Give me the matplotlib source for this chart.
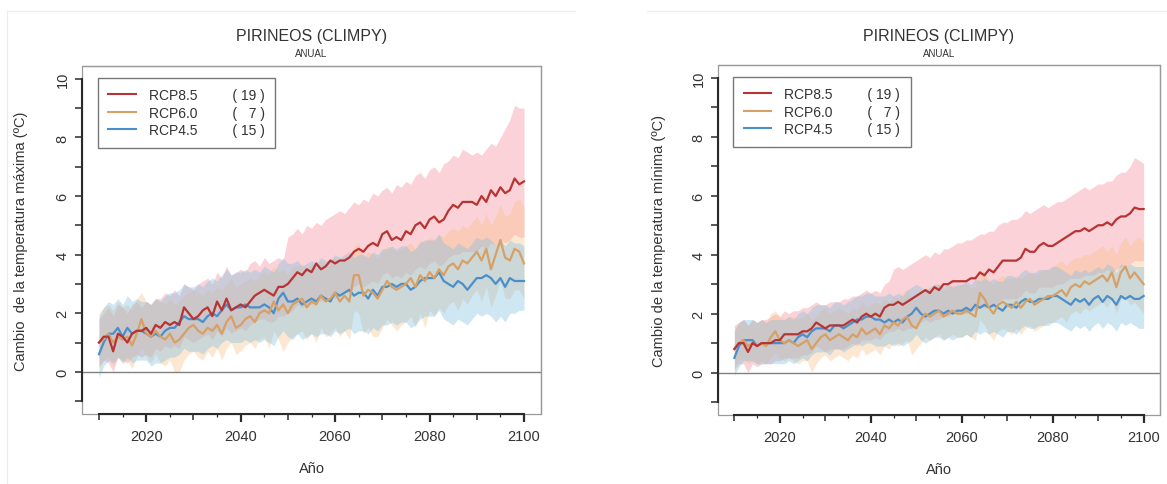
import numpy as np
import matplotlib
matplotlib.use("Agg")
import matplotlib.pyplot as plt
from matplotlib.lines import Line2D
from matplotlib.patches import Rectangle
from matplotlib.ticker import MultipleLocator, FixedLocator

plt.rcParams["font.family"] = ["Liberation Sans", "DejaVu Sans"]

years = np.arange(2010, 2101)
scenarios = ["RCP8.5", "RCP6.0", "RCP4.5"]
n_models = [19, 7, 15]

# --- temperatura máxima (left panel) ---
tx_85 = [1.0, 1.2, 1.2, 0.7, 1.3, 1.2, 1.0, 1.3, 1.4, 1.4,
         1.5, 1.3, 1.6, 1.5, 1.7, 1.6, 1.7, 1.6, 2.2, 2.0,
         1.8, 1.9, 2.1, 2.2, 1.9, 2.4, 2.1, 2.5, 2.1, 2.2,
         2.3, 2.2, 2.4, 2.6, 2.7, 2.8, 2.7, 2.6, 2.9, 2.9,
         3.0, 3.2, 3.4, 3.3, 3.5, 3.4, 3.7, 3.5, 3.6, 3.8,
         3.7, 3.8, 3.8, 3.9, 4.1, 4.2, 4.1, 4.3, 4.4, 4.3,
         4.7, 4.8, 4.5, 4.6, 4.5, 4.8, 4.7, 5.0, 5.1, 4.9,
         5.2, 5.3, 5.1, 5.2, 5.5, 5.7, 5.6, 5.8, 5.8, 5.8,
         5.7, 6.0, 5.8, 6.2, 6.0, 6.3, 6.1, 6.2, 6.6, 6.4,
         6.5]
tx_85_hi = [1.8, 2.0, 2.2, 1.9, 2.3, 2.2, 2.0, 2.3, 2.4, 2.2,
            2.4, 2.3, 2.5, 2.5, 2.7, 2.6, 2.8, 2.6, 3.0, 2.9,
            2.8, 3.0, 3.1, 3.2, 3.0, 3.4, 3.2, 3.6, 3.3, 3.4,
            3.5, 3.4, 3.7, 3.8, 3.6, 3.9, 3.7, 3.8, 3.9, 3.8,
            4.6, 4.7, 4.9, 4.7, 5.0, 4.9, 5.1, 5.0, 5.2, 5.3,
            5.4, 5.5, 5.4, 5.6, 5.8, 5.7, 5.9, 5.8, 6.1, 6.0,
            6.2, 6.3, 6.1, 6.4, 6.3, 6.5, 6.4, 6.7, 6.8, 6.6,
            6.9, 7.0, 6.8, 7.1, 7.2, 7.4, 7.3, 7.6, 7.5, 7.4,
            7.5, 7.4, 7.6, 7.8, 7.7, 8.0, 8.3, 8.6, 9.1, 9.0,
            9.0]
tx_85_lo = [0.2, 0.4, 0.3, 0.0, 0.5, 0.4, 0.3, 0.5, 0.6, 0.5,
            0.6, 0.5, 0.8, 0.7, 0.9, 0.8, 0.9, 0.8, 1.2, 1.1,
            1.0, 1.1, 1.2, 1.3, 1.1, 1.4, 1.2, 1.5, 1.3, 1.4,
            1.5, 1.4, 1.6, 1.7, 1.8, 1.8, 1.7, 1.7, 1.9, 1.9,
            2.0, 2.1, 2.3, 2.2, 2.3, 2.3, 2.5, 2.4, 2.5, 2.6,
            2.5, 2.6, 2.7, 2.7, 2.9, 3.0, 2.9, 3.0, 3.1, 3.0,
            3.3, 3.4, 3.2, 3.3, 3.2, 3.4, 3.3, 3.5, 3.6, 3.5,
            3.7, 3.8, 3.6, 3.7, 3.9, 4.0, 4.0, 4.1, 4.1, 4.1,
            4.1, 4.3, 4.2, 4.4, 4.3, 4.5, 4.4, 4.5, 4.7, 4.6,
            4.6]
tx_60 = [1.0, 1.1, 1.3, 1.0, 1.2, 1.1, 1.2, 0.9, 1.3, 1.8,
         1.3, 1.2, 1.4, 1.2, 1.1, 1.3, 1.0, 1.1, 1.3, 1.5,
         1.6, 1.4, 1.3, 1.5, 1.4, 1.6, 1.3, 1.7, 1.9, 1.5,
         1.6, 1.8, 1.9, 1.7, 2.0, 2.1, 2.0, 2.4, 2.1, 2.3,
         2.0, 2.3, 2.4, 2.5, 2.2, 2.4, 2.3, 2.6, 2.4, 2.5,
         2.7, 2.4, 2.6, 2.4, 3.3, 3.3, 2.6, 2.8, 2.7, 2.5,
         2.8, 3.1, 2.9, 2.8, 2.9, 3.0, 3.2, 2.9, 3.3, 3.1,
         3.4, 3.2, 3.5, 3.3, 3.6, 3.7, 3.5, 3.8, 3.7, 3.9,
         4.1, 3.8, 4.2, 3.5, 4.0, 4.5, 3.9, 3.8, 4.2, 4.1,
         3.7]
tx_60_hi = [2.0, 2.2, 2.3, 2.1, 2.4, 2.2, 2.3, 2.1, 2.5, 2.7,
            2.4, 2.3, 2.5, 2.4, 2.3, 2.5, 2.3, 2.4, 2.6, 2.7,
            2.8, 2.7, 2.6, 2.8, 2.7, 2.9, 2.8, 3.0, 3.2, 2.9,
            3.0, 3.1, 3.2, 3.1, 3.3, 3.4, 3.3, 3.6, 3.4, 3.5,
            3.3, 3.6, 3.6, 3.7, 3.5, 3.7, 3.6, 3.8, 3.7, 3.8,
            3.9, 3.7, 3.9, 3.8, 4.3, 4.4, 3.9, 4.1, 4.0, 3.9,
            4.1, 4.3, 4.2, 4.1, 4.2, 4.3, 4.4, 4.2, 4.5, 4.4,
            4.6, 4.5, 4.7, 4.6, 4.8, 4.9, 4.8, 5.0, 4.9, 5.1,
            5.3, 5.0, 5.4, 5.0, 5.3, 5.7, 5.3, 5.4, 5.8, 5.9,
            5.6]
tx_60_lo = [0.1, 0.4, 0.5, 0.2, 0.5, 0.3, 0.4, 0.1, 0.5, 0.8,
            0.5, 0.3, 0.6, 0.3, 0.2, 0.4, 0.0, 0.0, 0.4, 0.6,
            0.7, 0.5, 0.4, 0.7, 0.5, 0.8, 0.4, 0.8, 1.0, 0.6,
            0.7, 0.9, 1.0, 0.8, 1.1, 1.2, 0.8, 1.4, 1.1, 0.7,
            1.0, 1.2, 1.3, 1.4, 1.1, 1.3, 1.0, 1.5, 1.2, 1.3,
            1.5, 1.2, 1.4, 1.1, 2.1, 2.0, 1.3, 1.5, 1.2, 1.2,
            1.5, 1.8, 1.6, 1.4, 1.6, 1.7, 1.9, 1.5, 2.0, 1.5,
            2.1, 1.9, 2.2, 2.0, 2.3, 2.4, 2.1, 2.5, 2.3, 2.6,
            2.8, 2.4, 2.9, 2.2, 2.6, 3.1, 2.5, 2.5, 2.8, 2.8,
            2.5]
tx_45 = [0.6, 1.0, 1.3, 1.3, 1.5, 1.2, 1.5, 1.3, 1.4, 1.4,
         1.3, 1.2, 1.3, 1.2, 1.4, 1.5, 1.5, 1.7, 1.9, 1.8,
         1.8, 1.8, 1.7, 1.9, 2.0, 1.9, 2.1, 2.3, 2.1, 2.2,
         2.2, 2.3, 2.2, 2.2, 2.2, 2.3, 2.2, 2.0, 2.5, 2.7,
         2.4, 2.4, 2.5, 2.3, 2.4, 2.5, 2.4, 2.6, 2.5, 2.4,
         2.7, 2.6, 2.7, 2.8, 2.6, 2.7, 2.7, 2.5, 2.8, 2.6,
         2.9, 2.9, 3.0, 2.9, 3.0, 3.0, 2.8, 2.9, 3.1, 3.2,
         3.2, 3.2, 3.4, 3.1, 3.0, 2.9, 3.1, 3.0, 2.8, 3.0,
         3.2, 3.2, 3.3, 3.2, 3.0, 3.2, 2.9, 3.2, 3.1, 3.1,
         3.1]
tx_45_hi = [1.9, 2.2, 2.4, 2.3, 2.5, 2.3, 2.6, 2.4, 2.5, 2.4,
            2.4, 2.3, 2.5, 2.4, 2.6, 2.7, 2.7, 2.8, 3.0, 2.9,
            2.9, 3.0, 2.9, 3.1, 3.2, 3.1, 3.3, 3.5, 3.3, 3.4,
            3.4, 3.5, 3.4, 3.5, 3.4, 3.6, 3.5, 3.4, 3.7, 3.9,
            3.7, 3.7, 3.8, 3.6, 3.7, 3.8, 3.7, 3.9, 3.8, 3.8,
            4.0, 3.9, 4.0, 4.1, 3.9, 4.0, 4.0, 3.9, 4.1, 4.0,
            4.2, 4.2, 4.3, 4.2, 4.3, 4.3, 4.1, 4.2, 4.4, 4.5,
            4.5, 4.5, 4.7, 4.4, 4.3, 4.2, 4.4, 4.3, 4.2, 4.4,
            4.6, 4.5, 4.6, 4.5, 4.3, 4.5, 4.3, 4.5, 4.4, 4.4,
            4.3]
tx_45_lo = [-0.2, 0.2, 0.4, 0.3, 0.5, 0.3, 0.5, 0.3, 0.4, 0.4,
            0.4, 0.2, 0.3, 0.3, 0.4, 0.5, 0.5, 0.6, 0.8, 0.7,
            0.7, 0.7, 0.6, 0.8, 0.9, 0.8, 1.0, 1.1, 1.0, 1.0,
            1.0, 1.1, 1.0, 1.1, 1.0, 1.1, 1.0, 0.9, 1.2, 1.4,
            1.2, 1.1, 1.3, 1.1, 1.2, 1.3, 1.2, 1.3, 1.3, 1.2,
            1.4, 1.3, 1.4, 1.5, 1.3, 1.4, 1.4, 1.3, 1.5, 1.4,
            1.6, 1.6, 1.7, 1.6, 1.7, 1.7, 1.5, 1.6, 1.8, 1.9,
            1.9, 1.9, 2.1, 1.8, 1.7, 1.6, 1.8, 1.7, 1.6, 1.8,
            2.0, 1.9, 2.0, 1.9, 1.7, 1.9, 1.7, 2.0, 2.0, 2.1,
            2.1]

# --- temperatura mínima (right panel) ---
tn_85 = [0.8, 1.0, 1.0, 0.7, 1.0, 0.9, 1.0, 1.0, 1.0, 1.1,
         1.1, 1.3, 1.3, 1.3, 1.3, 1.4, 1.4, 1.5, 1.7, 1.6,
         1.5, 1.6, 1.6, 1.6, 1.6, 1.7, 1.8, 1.7, 1.9, 2.0,
         1.9, 2.0, 1.9, 2.2, 2.3, 2.3, 2.4, 2.3, 2.4, 2.5,
         2.6, 2.7, 2.8, 2.7, 2.9, 2.8, 3.0, 3.0, 3.1, 3.1,
         3.1, 3.1, 3.2, 3.2, 3.4, 3.3, 3.5, 3.4, 3.6, 3.8,
         3.8, 3.8, 3.8, 3.9, 4.2, 4.1, 4.1, 4.3, 4.4, 4.3,
         4.3, 4.4, 4.5, 4.6, 4.7, 4.8, 4.8, 4.9, 4.8, 4.9,
         5.0, 5.0, 5.1, 5.0, 5.2, 5.3, 5.3, 5.4, 5.6, 5.55,
         5.55]
tn_85_hi = [1.6, 1.7, 1.8, 1.6, 1.8, 1.7, 1.8, 1.8, 1.9, 2.0,
            1.9, 2.1, 2.0, 2.1, 2.1, 2.2, 2.2, 2.3, 2.4, 2.3,
            2.3, 2.4, 2.4, 2.4, 2.5, 2.5, 2.6, 2.6, 2.7, 2.8,
            2.7, 2.8, 2.7, 3.0, 3.1, 3.5, 3.6, 3.5, 3.6, 3.7,
            3.8, 3.9, 4.0, 3.9, 4.1, 4.0, 4.2, 4.2, 4.3, 4.4,
            4.4, 4.5, 4.5, 4.6, 4.7, 4.7, 4.8, 4.8, 5.0, 5.1,
            5.1, 5.2, 5.2, 5.3, 5.5, 5.4, 5.5, 5.6, 5.7, 5.6,
            5.7, 5.8, 5.8, 5.9, 6.0, 6.1, 6.2, 6.3, 6.2, 6.3,
            6.4, 6.4, 6.5, 6.5, 6.7, 6.8, 6.8, 7.0, 7.3, 7.2,
            7.1]
tn_85_lo = [0.1, 0.3, 0.3, 0.0, 0.3, 0.2, 0.3, 0.3, 0.3, 0.4,
            0.4, 0.5, 0.5, 0.5, 0.5, 0.6, 0.6, 0.7, 0.9, 0.8,
            0.7, 0.8, 0.8, 0.8, 0.8, 0.9, 1.0, 0.9, 1.1, 1.1,
            1.1, 1.2, 1.1, 1.3, 1.4, 1.4, 1.5, 1.4, 1.5, 1.5,
            1.6, 1.7, 1.8, 1.7, 1.8, 1.8, 1.9, 1.9, 2.0, 2.0,
            2.0, 2.0, 2.1, 2.1, 2.2, 2.2, 2.3, 2.2, 2.4, 2.5,
            2.5, 2.5, 2.5, 2.6, 2.8, 2.7, 2.7, 2.9, 2.9, 2.9,
            2.9, 3.0, 3.0, 3.1, 3.2, 3.2, 3.2, 3.3, 3.3, 3.3,
            3.4, 3.4, 3.5, 3.4, 3.5, 3.6, 3.6, 3.7, 3.8, 3.8,
            3.8]
tn_60 = [0.8, 1.0, 1.1, 0.9, 1.0, 0.9, 1.0, 0.9, 1.2, 1.4,
         1.1, 1.0, 1.1, 1.0, 0.9, 1.0, 1.1, 0.8, 1.0, 1.2,
         1.3, 1.1, 1.2, 1.3, 1.2, 1.1, 1.3, 1.2, 1.5, 1.3,
         1.4, 1.5, 1.3, 1.6, 1.5, 1.7, 1.6, 1.8, 1.9, 1.6,
         1.5, 1.8, 2.0, 1.9, 2.0, 2.1, 1.9, 2.0, 2.1, 2.0,
         2.0, 2.1, 2.0, 1.9, 2.7, 2.5, 2.2, 2.0, 2.3, 2.4,
         2.3, 2.2, 2.4, 2.2, 2.4, 2.5, 2.3, 2.4, 2.5, 2.6,
         2.6, 2.7, 2.8, 2.6, 2.9, 3.0, 2.9, 3.1, 3.0, 3.1,
         3.2, 3.3, 3.1, 3.4, 2.9, 3.4, 3.6, 3.2, 3.4, 3.2,
         3.0]
tn_60_hi = [1.5, 1.7, 1.8, 1.6, 1.8, 1.7, 1.8, 1.7, 2.0, 2.1,
            1.9, 1.8, 1.9, 1.9, 1.8, 1.9, 2.0, 1.8, 1.9, 2.1,
            2.2, 2.0, 2.1, 2.2, 2.1, 2.0, 2.2, 2.1, 2.4, 2.2,
            2.3, 2.4, 2.3, 2.5, 2.4, 2.6, 2.5, 2.7, 2.8, 2.5,
            2.5, 2.7, 2.9, 2.8, 2.9, 3.0, 2.8, 2.9, 3.0, 2.9,
            3.0, 3.0, 2.9, 2.9, 3.5, 3.4, 3.1, 3.0, 3.2, 3.3,
            3.2, 3.2, 3.3, 3.2, 3.3, 3.4, 3.3, 3.4, 3.5, 3.5,
            3.6, 3.7, 3.8, 3.6, 3.8, 3.9, 3.9, 4.0, 4.0, 4.1,
            4.2, 4.3, 4.1, 4.3, 4.0, 4.4, 4.6, 4.3, 4.5, 4.6,
            4.4]
tn_60_lo = [0.2, 0.4, 0.5, 0.3, 0.4, 0.3, 0.4, 0.3, 0.5, 0.7,
            0.5, 0.4, 0.5, 0.4, 0.3, 0.4, 0.4, 0.0, 0.3, 0.5,
            0.6, 0.4, 0.5, 0.6, 0.5, 0.4, 0.6, 0.5, 0.8, 0.6,
            0.7, 0.8, 0.6, 0.9, 0.8, 1.0, 0.9, 1.0, 1.1, 0.6,
            0.8, 1.0, 1.2, 1.1, 1.2, 1.3, 1.1, 1.2, 1.3, 1.2,
            1.2, 1.3, 1.2, 1.1, 1.8, 1.6, 1.3, 1.1, 1.4, 1.5,
            1.4, 1.3, 1.5, 1.3, 1.5, 1.6, 1.4, 1.5, 1.6, 1.7,
            1.7, 1.8, 1.9, 1.7, 2.0, 2.1, 2.0, 2.2, 2.1, 2.2,
            2.3, 2.4, 2.2, 2.5, 2.0, 2.5, 2.6, 2.3, 2.4, 2.2,
            2.0]
tn_45 = [0.5, 0.9, 1.1, 1.1, 1.1, 0.9, 1.0, 1.0, 1.0, 1.0,
         1.0, 1.0, 1.1, 1.0, 1.2, 1.3, 1.2, 1.4, 1.5, 1.5,
         1.5, 1.4, 1.6, 1.6, 1.5, 1.6, 1.7, 1.8, 1.8, 1.9,
         1.9, 1.8, 1.8, 1.7, 1.8, 1.7, 1.8, 1.7, 1.9, 2.0,
         2.2, 2.0, 1.9, 2.0, 2.1, 2.1, 2.0, 2.1, 2.0, 2.1,
         2.1, 2.2, 2.1, 2.3, 2.2, 2.3, 2.2, 2.3, 2.2, 2.1,
         2.3, 2.3, 2.2, 2.4, 2.5, 2.4, 2.4, 2.5, 2.5, 2.5,
         2.6, 2.6, 2.5, 2.4, 2.3, 2.5, 2.4, 2.5, 2.3, 2.5,
         2.6, 2.4, 2.6, 2.5, 2.3, 2.6, 2.5, 2.6, 2.5, 2.5,
         2.6]
tn_45_hi = [1.4, 1.7, 1.8, 1.8, 1.8, 1.7, 1.8, 1.7, 1.8, 1.8,
            1.8, 1.8, 1.9, 1.8, 2.0, 2.1, 2.0, 2.2, 2.3, 2.3,
            2.3, 2.2, 2.4, 2.4, 2.3, 2.4, 2.5, 2.6, 2.6, 2.7,
            2.7, 2.6, 2.6, 2.6, 2.7, 2.6, 2.7, 2.6, 2.8, 2.9,
            3.0, 2.9, 2.8, 2.9, 3.0, 3.0, 2.9, 3.0, 2.9, 3.0,
            3.0, 3.1, 3.0, 3.2, 3.1, 3.2, 3.1, 3.2, 3.1, 3.1,
            3.3, 3.3, 3.2, 3.4, 3.5, 3.4, 3.4, 3.5, 3.5, 3.5,
            3.6, 3.6, 3.5, 3.4, 3.3, 3.5, 3.4, 3.5, 3.4, 3.5,
            3.6, 3.5, 3.7, 3.6, 3.4, 3.7, 3.6, 3.7, 3.6, 3.6,
            3.6]
tn_45_lo = [-0.1, 0.2, 0.4, 0.4, 0.4, 0.3, 0.3, 0.3, 0.3, 0.3,
            0.3, 0.3, 0.4, 0.3, 0.4, 0.5, 0.4, 0.6, 0.7, 0.7,
            0.7, 0.6, 0.8, 0.8, 0.7, 0.8, 0.9, 1.0, 0.9, 1.0,
            1.0, 0.9, 0.9, 0.9, 1.0, 0.9, 1.0, 0.9, 1.0, 1.1,
            1.3, 1.1, 1.0, 1.1, 1.2, 1.2, 1.1, 1.2, 1.1, 1.2,
            1.2, 1.3, 1.2, 1.4, 1.3, 1.4, 1.3, 1.4, 1.3, 1.2,
            1.4, 1.4, 1.3, 1.5, 1.6, 1.5, 1.5, 1.6, 1.6, 1.6,
            1.7, 1.7, 1.6, 1.5, 1.4, 1.6, 1.5, 1.6, 1.4, 1.6,
            1.7, 1.5, 1.7, 1.6, 1.4, 1.7, 1.6, 1.7, 1.6, 1.5,
            1.5]

line_colors = ["#b83434", "#d6a066", "#4b8fca"]
band_colors = ["#f28a98", "#f8bf80", "#80c0e0"]
band_alpha = [0.38, 0.35, 0.38]
TXT = "#333333"


def draw_panel(ax, means, los, his, ylabel):
    for lo, hi, c, a in zip(los, his, band_colors, band_alpha):
        ax.fill_between(years, lo, hi, color=c, alpha=a, lw=0, zorder=1)
    for m, c in list(zip(means, line_colors))[::-1]:
        ax.plot(years, m, color=c, lw=1.6, zorder=3)
    ax.axhline(0, color="#808080", lw=1.0, zorder=2)

    ax.set_xlim(2006.4, 2103.6)
    ax.set_ylim(-1.44, 10.44)

    # R-like axes: gray box, dark axis lines over the tick range
    for s in ["top", "right"]:
        ax.spines[s].set_color("#9a9a9a")
        ax.spines[s].set_linewidth(0.9)
    ax.spines["left"].set_bounds(-1, 10)
    ax.spines["bottom"].set_bounds(2010, 2100)
    for s in ["left", "bottom"]:
        ax.spines[s].set_color("#2a2a2a")
        ax.spines[s].set_linewidth(1.5)
    ax.add_patch(Rectangle((0, 0), 1, 1, transform=ax.transAxes, fill=False,
                           ec="#9a9a9a", lw=0.9, clip_on=False, zorder=0))

    ax.xaxis.set_major_locator(MultipleLocator(20))
    ax.xaxis.set_minor_locator(FixedLocator(list(range(2010, 2101, 10))))
    ax.yaxis.set_major_locator(MultipleLocator(2))
    ax.yaxis.set_minor_locator(FixedLocator([-1, 1, 3, 5, 7, 9]))
    ax.tick_params(axis="x", which="major", length=5.5, width=1.6, color="#2a2a2a",
                   labelsize=10.5, labelcolor=TXT, pad=5)
    ax.tick_params(axis="x", which="minor", length=4, width=1.1, color="#2a2a2a")
    ax.tick_params(axis="y", which="both", length=5, width=1.1, color="#2a2a2a")
    ax.tick_params(axis="y", which="major", labelsize=10.5, labelcolor=TXT,
                   labelrotation=90, pad=4)
    for lab in ax.get_yticklabels():
        lab.set_verticalalignment("center")

    sec = ax.secondary_xaxis("bottom")
    sec.set_xticks(list(range(2015, 2100, 10)))
    sec.tick_params(length=2.5, width=0.9, color="#2a2a2a", labelbottom=False)
    sec.spines["bottom"].set_visible(False)

    ax.set_ylabel(ylabel, fontsize=10.5, color=TXT)
    ax.yaxis.set_label_coords(-0.118, 0.5)
    ax.set_xlabel("Año", fontsize=10.5, color=TXT)
    ax.xaxis.set_label_coords(0.5, -0.135)

    handles = [Line2D([], [], color=c, lw=1.5) for c in line_colors]
    labels = [f"{s}{' ' * 9}( {n:>2} )".replace("(  ", "( \u2007")
              for s, n in zip(scenarios, n_models)]
    leg = ax.legend(handles, labels, loc="upper left", bbox_to_anchor=(0.035, 0.966),
                    borderaxespad=0, fontsize=10, frameon=True, fancybox=False,
                    edgecolor="#555555", handlelength=1.95, handletextpad=0.95,
                    borderpad=0.75, labelspacing=0.25)
    leg.get_frame().set_linewidth(1.0)
    for t in leg.get_texts():
        t.set_color(TXT)

    x_mid = (ax.get_position().x0 + ax.get_position().x1) / 2
    fig.text(x_mid, 1 - 37 / 485, "PIRINEOS (CLIMPY)", ha="center", va="center",
             fontsize=11.5, color=TXT)
    fig.text(x_mid, 1 - 54 / 485, "ANUAL", ha="center", va="center",
             fontsize=7, color=TXT)


W, H = 1167, 485
fig = plt.figure(figsize=(W / 100, H / 100), dpi=100)
fig.patch.set_facecolor("white")
ax1 = fig.add_axes([82 / W, 70 / H, 459 / W, 348 / H])
ax2 = fig.add_axes([718 / W, 69 / H, 442 / W, 350 / H])

draw_panel(ax1, [tx_85, tx_60, tx_45], [tx_85_lo, tx_60_lo, tx_45_lo],
           [tx_85_hi, tx_60_hi, tx_45_hi], "Cambio  de la temperatura máxima (ºC)")
draw_panel(ax2, [tn_85, tn_60, tn_45], [tn_85_lo, tn_60_lo, tn_45_lo],
           [tn_85_hi, tn_60_hi, tn_45_hi], "Cambio de la temperatura mínima (ºC)")

# faint edges of the two pasted images
fig.add_artist(Line2D([7 / W, 575 / W], [1 - 12 / H, 1 - 12 / H], color="#ececec", lw=0.8))
fig.add_artist(Line2D([7 / W, 7 / W], [0, 1 - 12 / H], color="#ececec", lw=0.8))
fig.add_artist(Line2D([647 / W, 1], [1 - 12 / H, 1 - 12 / H], color="#ececec", lw=0.8))

fig.savefig("out.png", dpi=100, facecolor="white")
